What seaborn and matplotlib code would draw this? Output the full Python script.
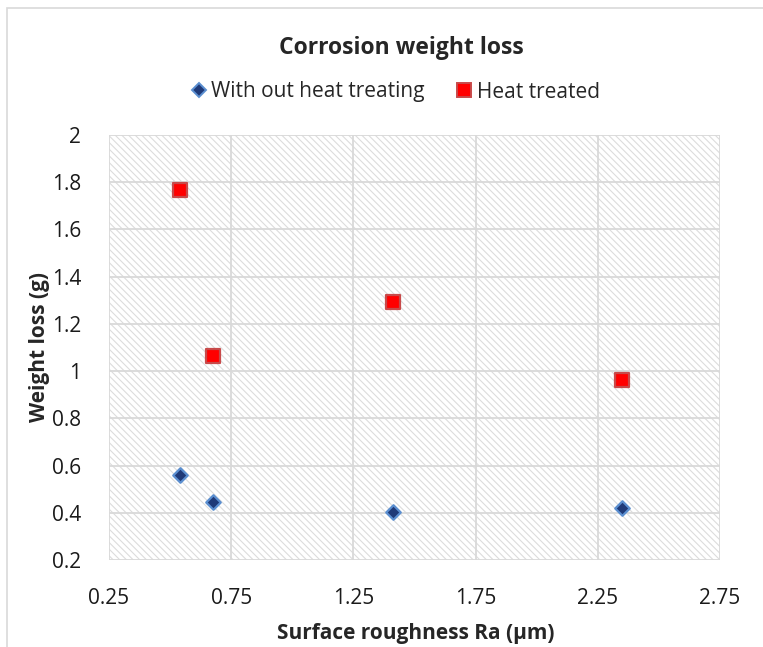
import matplotlib
matplotlib.use('Agg')
import matplotlib.pyplot as plt
from matplotlib.patches import Rectangle
from matplotlib.lines import Line2D
import seaborn as sns
import pandas as pd

# data
roughness = [0.54, 0.675, 1.41, 2.35]
loss_untreated = [0.562, 0.447, 0.402, 0.422]
loss_treated = [1.767, 1.066, 1.292, 0.962]
series_names = ['With out heat treating', 'Heat treated']
x_ticks = [0.25, 0.75, 1.25, 1.75, 2.25, 2.75]
y_ticks = [0.2, 0.4, 0.6, 0.8, 1.0, 1.2, 1.4, 1.6, 1.8, 2.0]

df = pd.DataFrame({
    'Ra': roughness * 2,
    'loss': loss_untreated + loss_treated,
    'series': [series_names[0]] * 4 + [series_names[1]] * 4,
})

sns.set_style('white')
plt.rcParams['font.family'] = ['Open Sans', 'DejaVu Sans']
plt.rcParams['hatch.linewidth'] = 0.8

W, H = 763, 647
fig = plt.figure(figsize=(W / 100, H / 100), dpi=100)
ax = fig.add_axes([109 / W, 1 - 560 / H, (720 - 109) / W, (560 - 135) / H])

# outer chart border
fig.add_artist(Rectangle((7 / W, -0.1), 1.2, 1 - 8 / H + 0.1, transform=fig.transFigure,
                         fill=False, edgecolor='#d9d9d9', lw=1.2))

# hatched plot area
ax.add_patch(Rectangle((0, 0), 1, 1, transform=ax.transAxes, facecolor='white',
                       edgecolor='#dcdcdc', hatch='\\\\\\\\\\', lw=0, zorder=0))

styles = {
    series_names[0]: dict(marker='D', s=55, color='#1f3a78', edgecolor='#5b8fd0', linewidth=1.6),
    series_names[1]: dict(marker='s', s=100, color='#ff0000', edgecolor='#c84a4a', linewidth=1.6),
}
for name in series_names:
    sub = df[df['series'] == name]
    sns.scatterplot(data=sub, x='Ra', y='loss', ax=ax, zorder=3, legend=False, **styles[name])

ax.set_xlim(0.25, 2.75)
ax.set_ylim(0.2, 2.0)
ax.set_xticks(x_ticks)
ax.set_yticks(y_ticks)
ax.set_xticklabels([f'{v:g}' for v in x_ticks])
ax.set_yticklabels([f'{v:g}' for v in y_ticks])
ax.grid(True, color='#d9d9d9', lw=1.3, zorder=1)
ax.set_axisbelow(True)
for sp in ax.spines.values():
    sp.set_visible(False)
ax.tick_params(axis='both', length=0, labelsize=15, colors='#1a1a1a')
ax.tick_params(axis='y', pad=20)
ax.tick_params(axis='x', pad=20)

ax.set_xlabel('')
ax.set_ylabel('')
fig.text(416 / W, 1 - 633 / H, 'Surface roughness Ra (µm)', ha='center', va='center',
         fontsize=15, fontweight='bold')
fig.text(40 / W, 1 - 347 / H, 'Weight loss (g)', ha='center', va='center', rotation=90,
         fontsize=15, fontweight='bold')
fig.text(401 / W, 1 - 48 / H, 'Corrosion weight loss', ha='center', va='center',
         fontsize=16.5, fontweight='bold')

handles = [
    Line2D([], [], ls='none', marker='D', markersize=7, markerfacecolor='#1f3a78',
           markeredgecolor='#5b8fd0', markeredgewidth=1.4),
    Line2D([], [], ls='none', marker='s', markersize=10, markerfacecolor='#ff0000',
           markeredgecolor='#c84a4a', markeredgewidth=1.4),
]
fig.legend(handles, series_names, loc='center', bbox_to_anchor=(395 / W, 1 - 92 / H),
           ncol=2, frameon=False, fontsize=15, handlelength=0.8, handletextpad=0.2,
           columnspacing=1.5)

fig.savefig('out.png', dpi=100)
